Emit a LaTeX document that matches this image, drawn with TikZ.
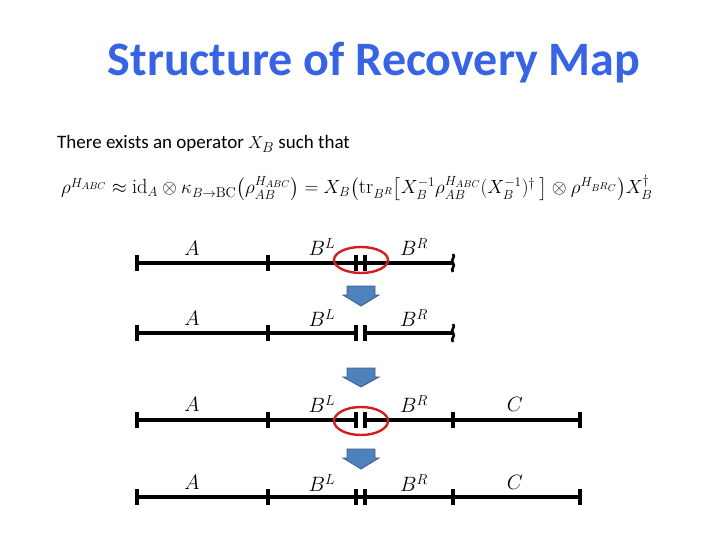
\documentclass[tikz,border=0pt]{standalone}
\usepackage{amsmath}
\usepackage{graphicx}
\usepackage{fontspec}
\setmainfont{Carlito}
\setmathrm{Latin Modern Roman}
\definecolor{titleblue}{RGB}{55,100,228}
\definecolor{arrowfill}{RGB}{79,129,189}
\definecolor{arrowdraw}{RGB}{56,93,138}
\definecolor{ellred}{RGB}{210,30,30}
\tikzset{
  seg/.style={line width=3.6pt},
  tickmark/.style={line width=3.6pt},
  lbl/.style={inner sep=0pt, font=\fontsize{20}{24}\selectfont},
  redring/.style={draw=ellred, line width=2.4pt},
  downarrow/.style={fill=arrowfill, draw=arrowdraw, line width=0.8pt},
  wavy/.style={line width=2.6pt}
}
\begin{document}
\begin{tikzpicture}[x=1pt,y=-1pt]
\useasboundingbox (0,0) rectangle (720,540);
% title
\node[anchor=base, text=titleblue, font=\fontsize{48}{54}\selectfont\bfseries] (title) at (374,76) {Structure of Recovery Map};
% body text
\node[anchor=base west, inner sep=0pt, font=\fontsize{19}{23}\selectfont] (intro) at (57,149) {There exists an operator $X_B$ such that};
\node[anchor=base west, inner sep=0pt, font=\fontsize{18.5}{22}\selectfont] (eq) at (61,194)
{\scalebox{1.105}{$\rho^{H_{ABC}} \approx \mathrm{id}_A \otimes \kappa_{B\to\mathrm{BC}}\big(\rho_{AB}^{H_{ABC}}\big) = X_B\big(\mathrm{tr}_{B^R}\big[X_B^{-1}\rho_{AB}^{H_{ABC}}(X_B^{-1})^\dagger\ \big]\otimes\rho^{H_{B^R C}}\big)X_B^\dagger$}};

% ---------- row 1 ----------
\draw[seg] (137,263) -- (453,263);
\foreach \x in {137,268,356,365} \draw[tickmark] (\x,255) -- (\x,271);
\draw[wavy] (453,254) .. controls (456,257) and (450,260) .. (453,263) .. controls (456,266) and (450,269) .. (453,272);
\draw[redring] (361,260) ellipse (27pt and 13pt);
\node[lbl] (a1) at (192,248) {$A$};
\node[lbl] (bl1) at (322,247) {$B^L$};
\node[lbl] (br1) at (414,247) {$B^R$};

% arrow 1
\draw[downarrow] (347,286) -- (375,286) -- (375,295) -- (379,295) -- (361,306) -- (343,295) -- (347,295) -- cycle;

% ---------- row 2 ----------
\draw[seg] (137,333) -- (356,333);
\draw[seg] (365,333) -- (453,333);
\foreach \x in {137,268,356,365} \draw[tickmark] (\x,325) -- (\x,341);
\draw[wavy] (453,324) .. controls (456,327) and (450,330) .. (453,333) .. controls (456,336) and (450,339) .. (453,342);
\node[lbl] (a2) at (192,318) {$A$};
\node[lbl] (bl2) at (322,318) {$B^L$};
\node[lbl] (br2) at (414,318) {$B^R$};

% arrow 2
\draw[downarrow] (347,368) -- (375,368) -- (375,377) -- (379,377) -- (361,387) -- (343,377) -- (347,377) -- cycle;

% ---------- row 3 ----------
\draw[seg] (137,420) -- (356,420);
\draw[seg] (365,420) -- (580,420);
\foreach \x in {137,268,356,365,453,580} \draw[tickmark] (\x,412) -- (\x,428);
\draw[redring] (361,421) ellipse (27pt and 14pt);
\node[lbl] (a3) at (192,404) {$A$};
\node[lbl] (bl3) at (322,404) {$B^L$};
\node[lbl] (br3) at (414,404) {$B^R$};
\node[lbl] (c3) at (515,404) {$C$};

% arrow 3
\draw[downarrow] (347,449) -- (375,449) -- (375,458) -- (379,458) -- (361,469) -- (343,458) -- (347,458) -- cycle;

% ---------- row 4 ----------
\draw[seg] (137,497) -- (580,497);
\foreach \x in {137,268,356,365,453,580} \draw[tickmark] (\x,489) -- (\x,505);
\node[lbl] (a4) at (192,482) {$A$};
\node[lbl] (bl4) at (322,483) {$B^L$};
\node[lbl] (br4) at (414,483) {$B^R$};
\node[lbl] (c4) at (515,482) {$C$};
\end{tikzpicture}
\end{document}
